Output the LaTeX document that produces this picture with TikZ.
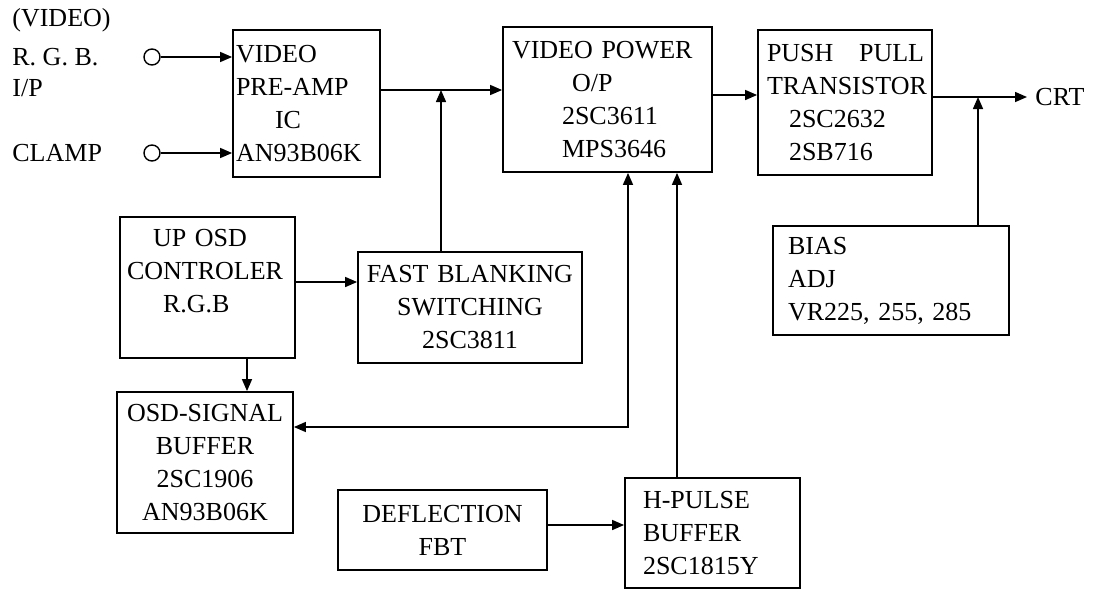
\documentclass[tikz,border=0pt]{standalone}
\usepackage{fontspec}
\setmainfont{Liberation Serif}
\usetikzlibrary{arrows.meta}
\tikzset{
  blk/.style={draw, line width=0.9pt, align=left, inner ysep=0pt, font=\fontsize{13}{16.5}\selectfont},
  lbl/.style={font=\fontsize{13}{16.5}\selectfont, inner sep=0pt},
  arr/.style={line width=0.75pt, -{Triangle[length=6pt,width=5pt]}},
  arrb/.style={line width=0.75pt, {Triangle[length=6pt,width=5pt]}-{Triangle[length=6pt,width=5pt]}},
  term/.style={circle, draw, line width=0.7pt, minimum size=8pt, inner sep=0pt}
}
\begin{document}
\begin{tikzpicture}[x=0.5pt,y=-0.5pt]
\useasboundingbox (0,0) rectangle (1101,590);

% boxes
\node[blk, minimum width=73.5pt, minimum height=73.5pt, inner xsep=1.5pt, text width=70.5pt] (preamp) at (306.5,103.5)
  {VIDEO\\PRE-AMP\\\hspace*{19.5pt}IC\\AN93B06K};
\node[blk, minimum width=104.5pt, minimum height=72.5pt, inner xsep=4.5pt, text width=95.5pt] (vpower) at (607.5,99.5)
  {VIDEO POWER\\\hspace*{30pt}O/P\\\hspace*{25pt}2SC3611\\\hspace*{25pt}MPS3646};
\node[blk, minimum width=87pt, minimum height=72.5pt, inner xsep=4.5pt, text width=78pt] (push) at (845,102.5)
  {PUSH\hspace*{8.5pt} PULL\\TRANSISTOR\\\hspace*{11pt}2SC2632\\\hspace*{11pt}2SB716};
\node[blk, minimum width=118pt, minimum height=54.5pt, inner xsep=7.5pt, text width=103pt] (bias) at (891,280.5)
  {BIAS\\ADJ\\VR225, 255, 285};
\node[blk, minimum width=87.5pt, minimum height=70.5pt, inner xsep=3.5pt, text width=80.5pt] (uposd) at (207.5,287.5)
  {\hspace*{13pt}UP OSD\\CONTROLER\\\hspace*{18pt}R.G.B\\\mbox{}};
\node[blk, align=center, minimum width=112pt, minimum height=55.5pt, inner xsep=2pt, text width=108pt] (fastb) at (470,307.5)
  {FAST BLANKING\\SWITCHING\\2SC3811};
\node[blk, align=center, minimum width=88pt, minimum height=70.5pt, inner xsep=2pt, text width=84pt] (osdbuf) at (205,462.5)
  {OSD-SIGNAL\\BUFFER\\2SC1906\\AN93B06K};
\node[blk, align=center, minimum width=104.5pt, minimum height=40pt, inner xsep=2pt, text width=100.5pt] (defl) at (442.5,530)
  {DEFLECTION\\FBT};
\node[blk, minimum width=87.5pt, minimum height=55pt, inner xsep=9pt, text width=69.5pt] (hpulse) at (712.5,533)
  {H-PULSE\\BUFFER\\2SC1815Y};

% labels
\node[lbl, anchor=west] (lvideo) at (12,20) {(VIDEO)};
\node[lbl, anchor=west] (lrgb) at (12,57) {R. G. B.};
\node[lbl, anchor=west] (lip) at (12,88) {I/P};
\node[lbl, anchor=west] (lclamp) at (12,153) {CLAMP};
\node[lbl, anchor=west, inner xsep=4pt] (crt) at (1027,97) {CRT};

% input terminals
\node[term] (cin1) at (152,57) {};
\node[term] (cin2) at (152,153) {};
\draw[arr] (cin1.east) -- (cin1.east -| preamp.west);
\draw[arr] (cin2.east) -- (cin2.east -| preamp.west);

% junction coordinates
\coordinate (j1) at (441,90);
\coordinate (j2) at (978,97);
\coordinate (j3) at (0,95);
\coordinate (k1) at (247,375);
\coordinate (k2) at (628,427);
\coordinate (k3) at (677,300);
\coordinate (k4) at (600,525);
\coordinate (k5) at (0,282);

% connectors
\draw[arr] (j1 -| preamp.east) -- (j1 -| vpower.west);
\draw[arr] (fastb.north -| j1) -- (j1);
\draw[arr] (j3 -| vpower.east) -- (j3 -| push.west);
\draw[arr] (j2 -| push.east) -- (crt.west);
\draw[arr] (bias.north -| j2) -- (j2);
\draw[arr] (k5 -| uposd.east) -- (k5 -| fastb.west);
\draw[arr] (uposd.south -| k1) -- (osdbuf.north -| k1);
\draw[arrb] (vpower.south -| k2) -- (k2) -- (osdbuf.east |- k2);
\draw[arr] (hpulse.north -| k3) -- (vpower.south -| k3);
\draw[arr] (k4 -| defl.east) -- (k4 -| hpulse.west);
\end{tikzpicture}
\end{document}
